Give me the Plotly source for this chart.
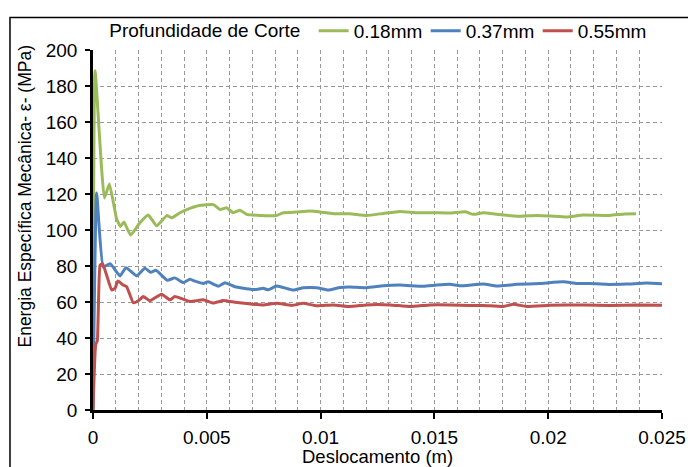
import plotly.graph_objects as go

# Displacement (m) and specific mechanical energy (MPa) for each depth of cut
x_018 = [0.0, 0.00009, 0.0005, 0.00072, 0.00104, 0.00121, 0.00136, 0.00165, 0.00206, 0.00243,
         0.0028, 0.00324, 0.00346, 0.00382, 0.00426, 0.00467, 0.00529, 0.00558, 0.00587, 0.00616,
         0.00646, 0.00675, 0.00734, 0.00807, 0.00836, 0.00895, 0.00953, 0.00997, 0.01056, 0.01129,
         0.01202, 0.01275, 0.01349, 0.01422, 0.01495, 0.01569, 0.01635, 0.01671, 0.01715, 0.01759,
         0.01803, 0.01869, 0.0195, 0.02008, 0.02081, 0.02154, 0.02271, 0.02337, 0.02386]
y_018 = [0.0, 188.5, 117.8, 125.6, 106.0, 102.0, 104.5, 97.2, 104.0, 108.3,
         102.3, 108.0, 106.8, 109.6, 112.0, 113.6, 114.1, 111.4, 112.3, 109.6,
         111.0, 108.7, 108.1, 108.1, 109.6, 110.0, 110.5, 110.0, 109.0, 109.0,
         108.1, 109.2, 110.3, 109.6, 109.6, 109.4, 110.1, 108.7, 109.6, 109.0,
         108.3, 107.6, 108.1, 107.8, 107.2, 108.3, 108.1, 108.9, 109.0]

x_037 = [0.0, 0.00016, 0.00045, 0.00075, 0.00119, 0.00145, 0.00192, 0.00228, 0.00253, 0.00277,
         0.00326, 0.0036, 0.00397, 0.00426, 0.00448, 0.00485, 0.00506, 0.0055, 0.0058, 0.00624,
         0.00697, 0.00719, 0.00748, 0.0077, 0.00807, 0.0088, 0.00924, 0.00983, 0.01034, 0.01085,
         0.01129, 0.01202, 0.01275, 0.01349, 0.01451, 0.0151, 0.01569, 0.01613, 0.01715, 0.01774,
         0.01862, 0.01964, 0.02067, 0.02125, 0.02184, 0.02257, 0.02345, 0.02433, 0.02506]
y_037 = [0.0, 120.5, 79.5, 81.3, 74.5, 79.1, 74.5, 78.8, 76.5, 77.6,
         72.1, 73.4, 70.8, 72.7, 71.6, 70.3, 71.2, 68.8, 70.7, 68.5,
         67.0, 67.0, 67.6, 66.8, 68.9, 66.6, 67.9, 67.9, 66.6, 68.1,
         68.3, 67.9, 69.0, 69.4, 68.7, 69.4, 69.8, 69.0, 70.0, 68.9,
         69.8, 70.3, 71.2, 70.3, 70.3, 69.8, 70.0, 70.5, 70.1]

x_055 = [0.0, 0.00012, 0.00019, 0.00031, 0.00042, 0.0006, 0.00082, 0.00097, 0.00109, 0.00133,
         0.00148, 0.00177, 0.00199, 0.00221, 0.0025, 0.00301, 0.00338, 0.0036, 0.00426, 0.00485,
         0.00528, 0.00572, 0.00624, 0.00704, 0.00748, 0.00807, 0.00873, 0.00924, 0.00983, 0.01056,
         0.01129, 0.01202, 0.01305, 0.01393, 0.01481, 0.01569, 0.01656, 0.01715, 0.01803, 0.01847,
         0.01906, 0.02008, 0.02154, 0.02271, 0.02388, 0.02506]
y_055 = [0.0, 36.5, 38.4, 80.4, 81.3, 74.9, 66.7, 67.6, 71.7, 69.4,
         68.5, 59.6, 60.7, 63.0, 60.7, 64.3, 61.2, 63.0, 60.3, 61.2,
         59.4, 60.8, 59.9, 58.8, 58.4, 59.3, 58.1, 59.3, 57.9, 58.4,
         57.5, 58.4, 58.4, 57.5, 58.4, 58.4, 58.1, 58.1, 57.5, 58.8,
         57.5, 58.2, 58.4, 58.1, 58.4, 58.2]

series_names = ["0.18mm", "0.37mm", "0.55mm"]
series_colors = ["#9BBB59", "#4F81BD", "#C0504D"]

x_ticks = [0, 0.005, 0.01, 0.015, 0.02, 0.025]
x_tick_text = ["0", "0.005", "0.01", "0.015", "0.02", "0.025"]

FONT = "Liberation Sans, Arial, sans-serif"

fig = go.Figure()
for xs, ys, name, color in zip([x_018, x_037, x_055], [y_018, y_037, y_055],
                               series_names, series_colors):
    fig.add_trace(go.Scatter(x=xs, y=ys, mode="lines", name=name,
                             line=dict(color=color, width=3, shape="spline", smoothing=0.4)))

grid_color = "#999999"
grid_dash = "4px,3px"
fig.update_layout(
    width=688, height=467,
    margin=dict(l=93, r=26, t=45, b=57),
    paper_bgcolor="white", plot_bgcolor="white",
    font=dict(family=FONT, size=19, color="black"),
    showlegend=True,
    legend=dict(orientation="h", x=0.025, xanchor="left", y=1.0, yanchor="bottom",
                title=dict(text="Profundidade de Corte ", side="left",
                           font=dict(family=FONT, size=19, color="black")),
                font=dict(family=FONT, size=19, color="black"),
                entrywidth=67, entrywidthmode="pixels",
                itemwidth=30, tracegroupgap=0,
                bgcolor="rgba(0,0,0,0)"),
    xaxis=dict(range=[0, 0.025], tickvals=x_ticks, ticktext=x_tick_text,
               automargin=False,
               showline=True, linecolor="black", linewidth=2.5,
               ticks="outside", ticklen=6, tickcolor="black", tickwidth=1.5,
               ticklabelstandoff=2,
               showgrid=True, gridcolor=grid_color, griddash=grid_dash, gridwidth=1,
               minor=dict(dtick=0.001, showgrid=True, gridcolor=grid_color,
                          griddash=grid_dash, gridwidth=1),
               zeroline=False),
    yaxis=dict(range=[0, 200], dtick=20,
               automargin=False,
               showline=True, linecolor="black", linewidth=2.5,
               ticks="outside", ticklen=5, tickcolor="black", tickwidth=1.5,
               ticklabelstandoff=4,
               showgrid=True, gridcolor=grid_color, griddash=grid_dash, gridwidth=1,
               zeroline=False),
)

# Axis titles placed as annotations
fig.add_annotation(text="Deslocamento (m)",
                   xref="paper", yref="paper", x=0.5, y=-0.128,
                   xanchor="center", yanchor="middle", showarrow=False,
                   font=dict(family=FONT, size=18.5, color="black"))
fig.add_annotation(text="Energia Específica Mecânica- ε- (MPa)", textangle=-90,
                   xref="paper", yref="paper", x=-0.12, y=0.595,
                   xanchor="center", yanchor="middle", showarrow=False,
                   font=dict(family=FONT, size=17.5, color="black"))

# Outer chart frame
fig.add_shape(type="rect", xref="paper", yref="paper",
              x0=-0.1459, x1=1.07, y0=-0.2, y1=1.0904,
              line=dict(color="black", width=1.5), layer="below")

fig.write_html("out.html")
